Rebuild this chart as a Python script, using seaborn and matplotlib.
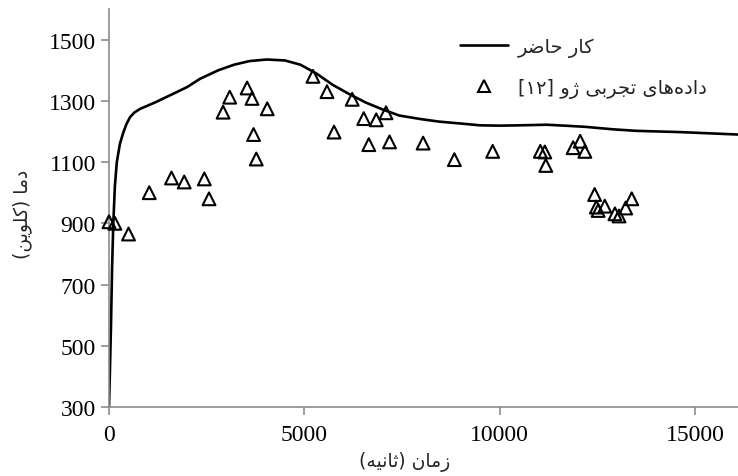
import matplotlib
matplotlib.use("Agg")
import matplotlib.pyplot as plt
import seaborn as sns
import pandas as pd
from matplotlib.lines import Line2D

# ---- data ----
model_time = [0, 20, 50, 80, 110, 150, 200, 280, 370, 450, 540, 650, 800, 1000,
              1200, 1560, 2000, 2330, 2800, 3200, 3600, 4040, 4500, 4900, 5300,
              5730, 6150, 6580, 7000, 7430, 8000, 8460, 9000, 9500, 10000, 10500,
              11200, 11800, 12200, 12900, 13500, 14600, 16100]
model_temp = [300, 400, 560, 760, 900, 1020, 1100, 1160, 1198, 1225, 1247, 1262,
              1274, 1285, 1296, 1318, 1345, 1372, 1400, 1418, 1430, 1435, 1432,
              1418, 1390, 1352, 1322, 1294, 1272, 1252, 1240, 1232, 1226, 1220,
              1219, 1220, 1222, 1218, 1215, 1207, 1202, 1198, 1190]

exp_time = [0, 150, 500, 1030, 1600, 1925, 2440, 2560, 2920, 3090, 3535, 3660,
            4050, 3700, 3770, 5220, 5580, 5760, 6225, 6520, 6650, 6840, 7090,
            7180, 8040, 8840, 9820, 11040, 11155, 11180, 11880, 12060, 12180,
            12430, 12475, 12520, 12690, 12950, 13055, 13225, 13380]
exp_temp = [905, 900, 865, 1000, 1048, 1035, 1045, 980, 1263, 1312, 1342, 1308,
            1274, 1190, 1110, 1380, 1330, 1198, 1305, 1242, 1157, 1238, 1261,
            1166, 1162, 1108, 1135, 1135, 1133, 1089, 1147, 1168, 1135, 994, 953,
            942, 956, 931, 924, 950, 980]

x_ticks = [0, 5000, 10000, 15000]
y_ticks = [300, 500, 700, 900, 1100, 1300, 1500]

label_model = "کار حاضر"
label_exp = "داده‌های تجربی ژو [۱۲]"
x_label = "زمان (ثانیه)"
y_label = "دما (کلوین)"


# ---- minimal Persian shaping (contextual forms + RTL order) ----
# letter: (isolated, final, initial, medial); None initial => right-joining only
FORMS = {
    'ا': ('\uFE8D', '\uFE8E', None, None),
    'ب': ('\uFE8F', '\uFE90', '\uFE91', '\uFE92'),
    'ت': ('\uFE95', '\uFE96', '\uFE97', '\uFE98'),
    'ث': ('\uFE99', '\uFE9A', '\uFE9B', '\uFE9C'),
    'ج': ('\uFE9D', '\uFE9E', '\uFE9F', '\uFEA0'),
    'ح': ('\uFEA1', '\uFEA2', '\uFEA3', '\uFEA4'),
    'د': ('\uFEA9', '\uFEAA', None, None),
    'ر': ('\uFEAD', '\uFEAE', None, None),
    'ز': ('\uFEAF', '\uFEB0', None, None),
    'ژ': ('\uFB8A', '\uFB8B', None, None),
    'ض': ('\uFEBD', '\uFEBE', '\uFEBF', '\uFEC0'),
    'ل': ('\uFEDD', '\uFEDE', '\uFEDF', '\uFEE0'),
    'م': ('\uFEE1', '\uFEE2', '\uFEE3', '\uFEE4'),
    'ن': ('\uFEE5', '\uFEE6', '\uFEE7', '\uFEE8'),
    'ه': ('\uFEE9', '\uFEEA', '\uFEEB', '\uFEEC'),
    'و': ('\uFEED', '\uFEEE', None, None),
    'ی': ('\uFBFC', '\uFBFD', '\uFBFE', '\uFBFF'),
    'ک': ('\uFB8E', '\uFB8F', '\uFB90', '\uFB91'),
}
MIRROR = {'(': ')', ')': '(', '[': ']', ']': '['}


def shape_fa(text):
    chars = list(text)
    out = []
    for i, c in enumerate(chars):
        if c == '\u200c':
            continue
        if c not in FORMS:
            out.append(c)
            continue
        prev = chars[i - 1] if i > 0 else ''
        nxt = chars[i + 1] if i + 1 < len(chars) else ''
        jp = prev in FORMS and FORMS[prev][2] is not None
        jn = FORMS[c][2] is not None and nxt in FORMS
        iso, fin, ini, med = FORMS[c]
        if jp and jn:
            out.append(med)
        elif jp:
            out.append(fin)
        elif jn:
            out.append(ini)
        else:
            out.append(iso)
    # visual order: reverse, keep digit runs LTR, mirror brackets
    rev = out[::-1]
    res, run = [], []
    for c in rev:
        if c.isdigit():
            run.append(c)
        else:
            if run:
                res.extend(run[::-1])
                run = []
            res.append(MIRROR.get(c, c))
    res.extend(run[::-1])
    return ''.join(res)


sns.set_theme(style="white")
plt.rcParams['font.family'] = ['Liberation Serif', 'DejaVu Sans']

fig = plt.figure(figsize=(7.38, 4.77), dpi=100)
ax = fig.add_axes([109/738, 1-408/477, 1-109/738, (408-10)/477])

df_m = pd.DataFrame({"t": model_time, "T": model_temp})
df_e = pd.DataFrame({"t": exp_time, "T": exp_temp})

sns.lineplot(data=df_m, x="t", y="T", ax=ax, color="black", linewidth=1.9,
             sort=False, estimator=None)
sns.scatterplot(data=df_e, x="t", y="T", ax=ax, marker="^", s=85,
                facecolor="none", edgecolor="black", linewidth=1.5, zorder=3,
                clip_on=False)

ax.set_xlim(0, 16100)
ax.set_ylim(300, 1600)
ax.set_xticks(x_ticks)
ax.set_yticks(y_ticks)
ax.tick_params(axis="both", labelsize=17, colors="#8c8c8c", labelcolor="black",
               length=6, width=1.2, direction="out", left=True, bottom=True)
ax.tick_params(axis="x", pad=6)
for s in ["top", "right"]:
    ax.spines[s].set_visible(False)
for s in ["left", "bottom"]:
    ax.spines[s].set_color("#8c8c8c")
    ax.spines[s].set_linewidth(1.2)

ax.set_xlabel(shape_fa(x_label), fontsize=13.5, family=['DejaVu Sans'])
ax.set_ylabel(shape_fa(y_label), fontsize=13.5, family=['DejaVu Sans'])
ax.xaxis.set_label_coords((405-109)/(738-109), -(452-408)/398)
ax.yaxis.set_label_coords(-77/629, (408-214)/398)

h1 = Line2D([], [], color="black", linewidth=1.9)
h2 = Line2D([], [], color="black", marker="^", linestyle="none",
            markerfacecolor="none", markersize=9, markeredgewidth=1.5)
leg = ax.legend([h1, h2], [shape_fa(label_model), shape_fa(label_exp)],
                loc="upper left",
                bbox_to_anchor=((452-109)/629, 1-20/398), frameon=False,
                prop={'family': 'DejaVu Sans', 'size': 14},
                handlelength=2.5, handletextpad=0.5, labelspacing=1.1,
                borderaxespad=0)

fig.savefig("out.png", dpi=100)
